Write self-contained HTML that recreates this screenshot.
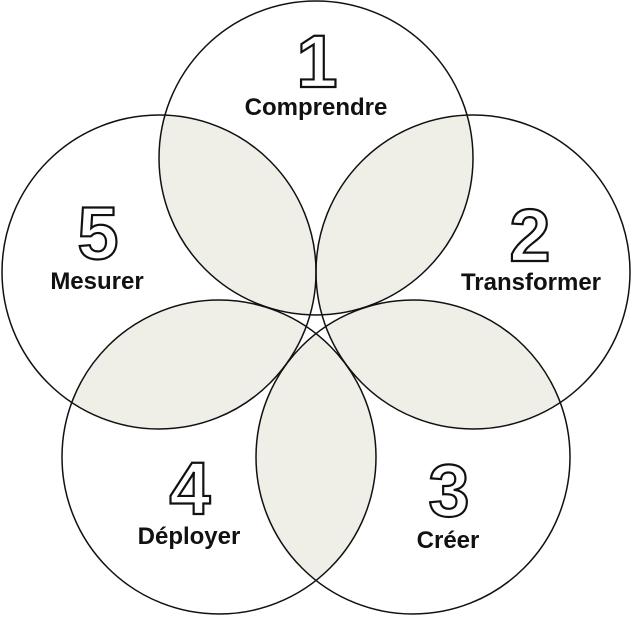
<!DOCTYPE html>
<html><head><meta charset="utf-8"><style>
html,body{margin:0;padding:0;background:#fff}
svg{display:block}
.n{font-family:"Liberation Sans",sans-serif;font-weight:bold;font-size:74px;fill:#fff;stroke:#111;stroke-width:2.2;text-anchor:middle}
.l{font-family:"Liberation Sans",sans-serif;font-weight:bold;font-size:24px;fill:#111;text-anchor:middle}
</style></head><body>
<svg width="632" height="617" viewBox="0 0 632 617" xmlns="http://www.w3.org/2000/svg">
<defs>
<clipPath id="c1"><circle cx="316" cy="158" r="157"/></clipPath>
<clipPath id="c2"><circle cx="473" cy="272" r="157"/></clipPath>
<clipPath id="c3"><circle cx="413" cy="457" r="157"/></clipPath>
<clipPath id="c4"><circle cx="219" cy="457" r="157"/></clipPath>
<clipPath id="c5"><circle cx="159" cy="272" r="157"/></clipPath>
</defs>
<g fill="#efefe7">
<circle cx="473" cy="272" r="157" clip-path="url(#c1)"/>
<circle cx="413" cy="457" r="157" clip-path="url(#c2)"/>
<circle cx="219" cy="457" r="157" clip-path="url(#c3)"/>
<circle cx="159" cy="272" r="157" clip-path="url(#c4)"/>
<circle cx="316" cy="158" r="157" clip-path="url(#c5)"/>
</g>
<g fill="none" stroke="#111" stroke-width="1.5">
<circle cx="316" cy="158" r="157"/>
<circle cx="473" cy="272" r="157"/>
<circle cx="413" cy="457" r="157"/>
<circle cx="219" cy="457" r="157"/>
<circle cx="159" cy="272" r="157"/>
</g>
<text class="n" x="317" y="87">1</text>
<text class="l" x="316" y="115">Comprendre</text>
<text class="n" x="530" y="261">2</text>
<text class="l" x="531" y="290">Transformer</text>
<text class="n" x="449" y="516">3</text>
<text class="l" x="448" y="548">Créer</text>
<text class="n" x="190" y="514">4</text>
<text class="l" x="189" y="544">Déployer</text>
<text class="n" x="98" y="259">5</text>
<text class="l" x="97" y="289">Mesurer</text>
</svg>
</body></html>
